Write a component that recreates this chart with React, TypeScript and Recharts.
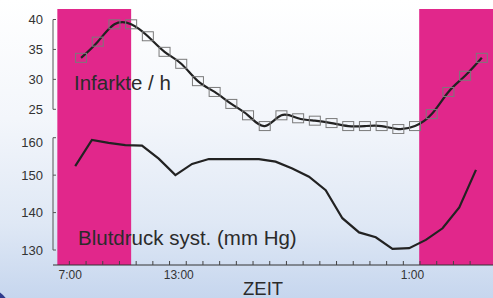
import React from "react";
import { ComposedChart, Line, XAxis, YAxis, ReferenceArea, ReferenceLine } from "recharts";

// hourly samples, 7:00 .. 7:00 next day (hours past midnight of day 1)
const hours = [7, 8, 9, 10, 11, 12, 13, 14, 15, 16, 17, 18, 19, 20, 21, 22, 23, 24, 25, 26, 27, 28, 29, 30, 31];
const infarkte = [33.6, 36.3, 39.2, 39.2, 37.2, 34.6, 32.6, 29.7, 27.9, 25.9, 24.0, 22.2, 24.0, 23.5, 23.1, 22.7, 22.2, 22.2, 22.2, 21.7, 22.2, 24.2, 27.9, 30.6, 33.6];
const blutdruck = [152.4, 159.4, 158.6, 158.0, 157.9, 154.4, 150.0, 153.0, 154.3, 154.3, 154.3, 154.3, 153.6, 151.8, 149.6, 146.0, 138.5, 134.7, 133.4, 130.3, 130.5, 132.7, 135.8, 141.4, 151.4];
const INF_SHIFT = 0.7;
const BP_SHIFT = 0.35;

const infTicks = [25, 30, 35, 40];
const bpTicks = [130, 140, 150, 160];
const timeLabelAt = [7.05, 13.55, 27.55];
const timeLabels = ["7:00", "13:00", "1:00"];
// night phases (pink)
const bands = [
  [6.28, 10.7],
  [27.95, 32.37],
];

const X_DOMAIN: [number, number] = [6.02, 32.37];
const PINK = "#e1278b";
const INK = "#222";

const infData = hours.map((h, i) => ({ t: h + INF_SHIFT, v: infarkte[i] }));
const bpData = hours.map((h, i) => ({ t: h + BP_SHIFT, v: blutdruck[i] }));

const Square = (props: any) => {
  const { cx, cy } = props;
  if (cx == null || cy == null) return null;
  return <rect x={cx - 5.5} y={cy - 4.5} width={11} height={9} fill="none" stroke="#7a7a7a" strokeWidth={1} />;
};

export default function App() {
  return (
    <div
      style={{
        position: "fixed",
        left: 0,
        top: 0,
        width: 493,
        height: 298,
        overflow: "hidden",
        fontFamily: "'Liberation Sans', Arial, sans-serif",
        background: "linear-gradient(to bottom, #ffffff 0%, #f3f6fb 40%, #dfe8f5 75%, #c6d6ee 100%)",
      }}
    >
      <div style={{ position: "absolute", left: 0, top: 0 }}>
        <ComposedChart width={493} height={134} data={infData} margin={{ top: 9, right: 0, bottom: 0, left: 0 }}>
          <XAxis dataKey="t" type="number" domain={X_DOMAIN} hide allowDataOverflow />
          <YAxis
            type="number"
            domain={[20.875, 41.754]}
            ticks={infTicks}
            width={53}
            axisLine={false}
            tickSize={-3}
            tickMargin={13}
            tickLine={{ stroke: "#555" }}
            tick={{ fontSize: 13, fill: "#333" }}
            allowDataOverflow
          />
          {bands.map(([a, b], i) => (
            <ReferenceArea key={i} x1={a} x2={b} fill={PINK} fillOpacity={1} stroke="none" ifOverflow="visible" />
          ))}
          <ReferenceLine segment={[{ x: X_DOMAIN[0], y: 25 }, { x: X_DOMAIN[0], y: 40 }]} stroke="#555" ifOverflow="visible" />
          <Line
            type="natural"
            dataKey="v"
            stroke={INK}
            strokeWidth={2.2}
            dot={<Square />}
            isAnimationActive={false}
          />
        </ComposedChart>
      </div>
      <div style={{ position: "absolute", left: 0, top: 134 }}>
        <ComposedChart width={493} height={164} data={bpData} margin={{ top: 0, right: 0, bottom: 0, left: 0 }}>
          <XAxis
            dataKey="t"
            type="number"
            domain={X_DOMAIN}
            ticks={hours}
            height={1}
            tickSize={-4}
            tickFormatter={() => ""}
            axisLine={{ stroke: "#333" }}
            tickLine={{ stroke: "#444" }}
            allowDataOverflow
          />
          <XAxis
            xAxisId="lbl"
            dataKey="t"
            type="number"
            domain={X_DOMAIN}
            ticks={timeLabelAt}
            height={32}
            tickSize={0}
            tickMargin={4}
            axisLine={false}
            tickLine={false}
            tickFormatter={(v: number) => timeLabels[timeLabelAt.indexOf(v)] ?? ""}
            tick={{ fontSize: 12, fill: "#333" }}
            allowDataOverflow
          />
          <YAxis
            type="number"
            domain={[126, 160.99]}
            ticks={bpTicks}
            width={53}
            axisLine={false}
            tickSize={-3}
            tickMargin={13}
            tickLine={{ stroke: "#555" }}
            tick={{ fontSize: 13, fill: "#333" }}
            allowDataOverflow
          />
          {bands.map(([a, b], i) => (
            <ReferenceArea key={i} x1={a} x2={b} fill={PINK} fillOpacity={1} stroke="none" ifOverflow="visible" />
          ))}
          <ReferenceLine segment={[{ x: X_DOMAIN[0], y: 130 }, { x: X_DOMAIN[0], y: 160 }]} stroke="#555" ifOverflow="visible" />
          <Line type="linear" dataKey="v" stroke={INK} strokeWidth={2.2} dot={false} isAnimationActive={false} />
        </ComposedChart>
      </div>
      <svg width={493} height={298} style={{ position: "absolute", left: 0, top: 0, pointerEvents: "none" }}>
        <text x={74} y={90} fontSize={20.5} fill="#2b2b2b">Infarkte / h</text>
        <text x={78} y={245} fontSize={20.5} fill="#2b2b2b">Blutdruck syst. (mm Hg)</text>
        <text x={243} y={295} fontSize={18.5} fill="#2b2b2b">ZEIT</text>
        <circle cx={-20} cy={318} r={32.5} fill="#2e3a8c" />
      </svg>
    </div>
  );
}
